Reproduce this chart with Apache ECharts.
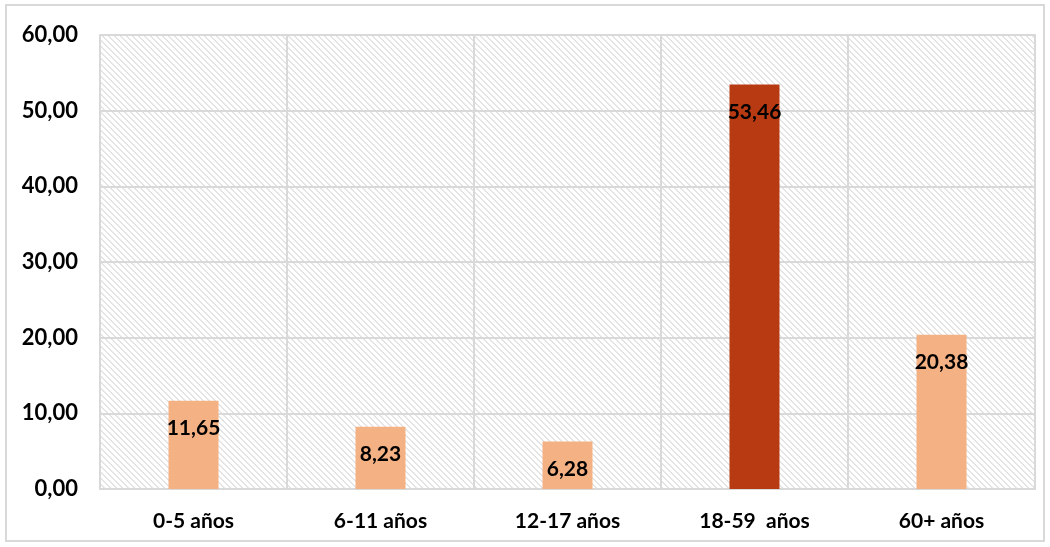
<!DOCTYPE html>
<html><head><meta charset="utf-8">
<script src="https://cdn.jsdelivr.net/npm/echarts@6/dist/echarts.min.js"></script>
<style>html,body{margin:0;padding:0;background:#fff}#c{width:1050px;height:547px}</style>
</head><body><div id="c"></div>
<script>
const categories = ['0-5 años', '6-11 años', '12-17 años', '18-59  años', '60+ años'];
const values = [11.65, 8.23, 6.28, 53.46, 20.38];
const highlightIndex = 3;
const yMin = 0, yMax = 60, yStep = 10;

function hatch() {
  const s = 6, c = document.createElement('canvas');
  c.width = s; c.height = s;
  const g = c.getContext('2d');
  g.fillStyle = '#ffffff'; g.fillRect(0, 0, s, s);
  g.fillStyle = '#e4e4e4';
  for (let i = 0; i < s; i++) { g.fillRect(i, i, 1, 1); g.fillRect((i + 1) % s, i, 1, 1); }
  return c;
}
const fmt = v => v.toFixed(2).replace('.', ',');
const FONT = 'Lato';
const chart = echarts.init(document.getElementById('c'), null, {renderer: 'canvas'});
chart.setOption({
  animation: false,
  backgroundColor: '#fff',
  graphic: [{type: 'rect', shape: {x: 6, y: 5, width: 1038, height: 536}, style: {fill: 'none', stroke: '#d9d9d9', lineWidth: 2}, z: -1}],
  grid: {left: 100, right: 15, top: 35, bottom: 58, show: true,
    backgroundColor: {image: hatch(), repeat: 'repeat'}, borderColor: '#d9d9d9', borderWidth: 2},
  xAxis: {type: 'category', data: categories,
    axisLine: {show: true, lineStyle: {color: '#d9d9d9', width: 2}},
    axisTick: {show: false},
    splitLine: {show: true, lineStyle: {color: '#d9d9d9', width: 2}},
    axisLabel: {color: '#000', fontFamily: FONT, fontWeight: 'bold', fontSize: 21, margin: 22}},
  yAxis: {type: 'value', min: yMin, max: yMax, interval: yStep,
    axisLine: {show: false}, axisTick: {show: false},
    splitLine: {lineStyle: {color: '#d9d9d9', width: 2}},
    axisLabel: {color: '#000', fontFamily: FONT, fontWeight: 'bold', fontSize: 22, margin: 22, formatter: fmt}},
  series: [{type: 'bar', barWidth: 50,
    data: values.map((v, i) => ({value: v, itemStyle: {color: i === highlightIndex ? '#B83A13' : '#F4B183'}})),
    label: {show: true, position: 'insideTop', distance: 17, color: '#000', fontFamily: FONT, fontWeight: 'bold', fontSize: 21,
      formatter: p => fmt(p.value)}}]
});
</script></body></html>
